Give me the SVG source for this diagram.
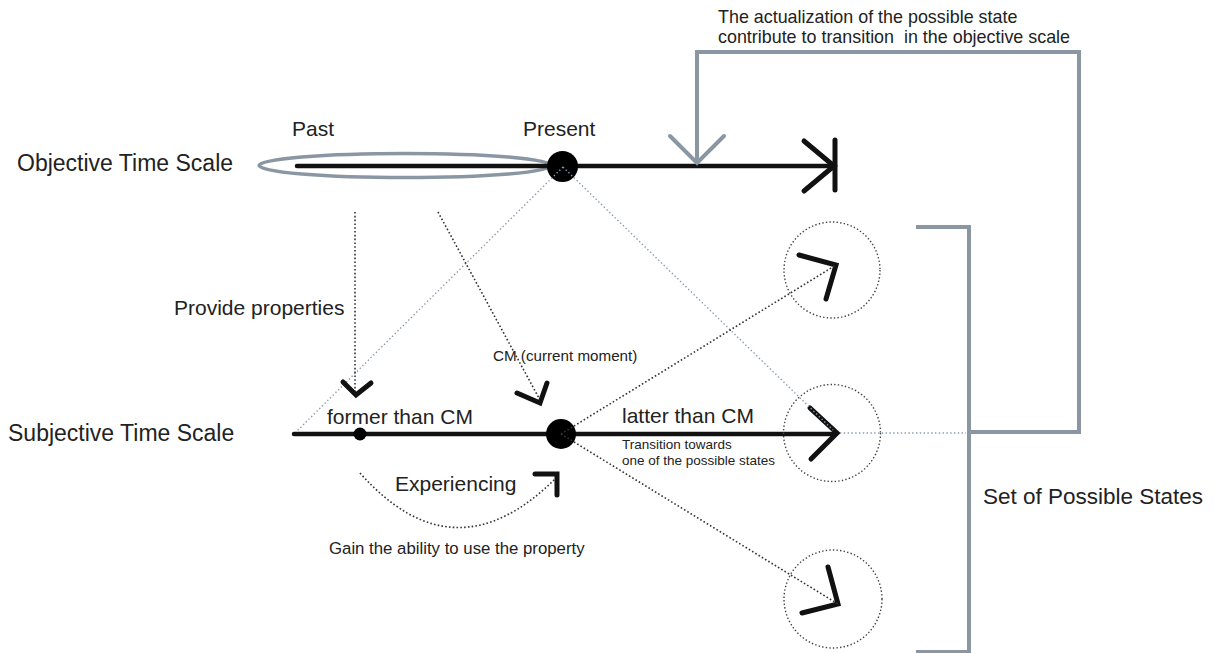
<svg xmlns="http://www.w3.org/2000/svg" width="1215" height="653" viewBox="0 0 1215 653">
  <style>
    text { font-family: "Liberation Sans", Arial, sans-serif; fill: #222; }
    .axis { stroke: #111; stroke-width: 4.5; fill: none; stroke-linecap: round; }
    .head { stroke: #111; stroke-width: 5; fill: none; stroke-linecap: round; stroke-linejoin: miter; }
    .gray { stroke: #8a97a2; stroke-width: 4; fill: none; stroke-linejoin: miter; }
    .dot-black { stroke: #333; stroke-width: 1.6; fill: none; stroke-dasharray: 1.6 2.2; }
    .dot-gray { stroke: #8a9aaa; stroke-width: 1.4; fill: none; stroke-dasharray: 1.4 2.4; }
    .state { stroke: #444; stroke-width: 1.4; fill: none; stroke-dasharray: 1.4 2.2; }
  </style>
  <rect width="1215" height="653" fill="#fff"/>

  <!-- scale labels -->
  <g id="labels">
    <text x="17" y="171" font-size="23">Objective Time Scale</text>
    <text x="8" y="441" font-size="23">Subjective Time Scale</text>
    <text x="174" y="315" font-size="21">Provide properties</text>
    <text x="983" y="504" font-size="22.5">Set of Possible States</text>
    <text x="718" y="23" font-size="17.9">The actualization of the possible state</text>
    <text x="718" y="43" font-size="17.9" xml:space="preserve">contribute to transition  in the objective scale</text>
  </g>

  <!-- objective time scale -->
  <g id="objective-scale">
    <ellipse cx="405" cy="165.5" rx="146" ry="12" fill="none" stroke="#8a97a2" stroke-width="3.5"/>
    <line class="axis" x1="297" y1="166" x2="834" y2="166"/>
    <polyline class="head" points="804,141 834,166 804,191"/>
    <line class="head" x1="835" y1="140" x2="835" y2="190" stroke-linecap="butt"/>
    <text x="292" y="136" font-size="21">Past</text>
    <text x="523" y="136" font-size="21">Present</text>
  </g>
  <g id="present">
    <circle cx="562.5" cy="166.5" r="15.5" fill="#000"/>
  </g>

  <!-- subjective time scale -->
  <g id="subjective-scale">
    <line class="axis" x1="294" y1="434" x2="836" y2="434"/>
    <circle cx="360" cy="434" r="6.5" fill="#000"/>
    <text x="327" y="424" font-size="21">former than CM</text>
    <text x="622" y="423" font-size="21">latter than CM</text>
    <text x="622" y="449" font-size="13.5">Transition towards</text>
    <text x="622" y="465" font-size="13.5">one of the possible states</text>
  </g>
  <g id="current-moment">
    <circle cx="561" cy="434" r="15" fill="#000"/>
    <text x="493" y="361" font-size="15.2">CM (current moment)</text>
  </g>

  <!-- possible states -->
  <g id="state-upper">
    <circle class="state" cx="832" cy="270" r="48"/>
    <polyline class="head" points="799,255 836,265 826,299"/>
  </g>
  <g id="state-middle">
    <circle class="state" cx="832" cy="433" r="48.5"/>
    <polyline class="head" points="810,408 837,433 811,459"/>
  </g>
  <g id="state-lower">
    <circle class="state" cx="833" cy="599" r="49"/>
    <polyline class="head" points="828,567 838,604 802,613"/>
  </g>

  <!-- set-of-states bracket -->
  <g id="states-bracket">
    <polyline class="gray" points="916,227 969,227 969,652 916,652"/>
  </g>

  <g id="connectors">
    <!-- feedback from the set of states to the objective scale -->
    <polyline class="gray" points="969,432 1079,432 1079,52 697,52 697,162"/>
    <polyline class="gray" points="670,136 697,163 724,136" stroke-linecap="round"/>
    <line class="dot-gray" x1="840" y1="433" x2="966" y2="433"/>

    <!-- present projected onto the subjective scale -->
    <line class="dot-gray" x1="563" y1="167" x2="296" y2="432"/>
    <line class="dot-gray" x1="563" y1="167" x2="833" y2="430"/>

    <!-- provide properties -->
    <line class="dot-black" x1="355" y1="212" x2="355" y2="392"/>
    <polyline class="head" points="343,382 356,395 371,383"/>
    <line class="dot-black" x1="438" y1="212" x2="540" y2="400"/>
    <polyline class="head" points="517,393 540,403 547,383"/>

    <!-- transitions from CM to possible states -->
    <line class="dot-black" x1="561" y1="434" x2="836" y2="265"/>
    <line class="dot-black" x1="561" y1="434" x2="838" y2="604"/>

    <!-- experiencing -->
    <path class="dot-black" d="M360,473 Q455,580 557,477"/>
    <polyline class="head" points="535,474 557,474 557,495"/>
  </g>

  <g id="experiencing-labels">
    <text x="395" y="491" font-size="21">Experiencing</text>
    <text x="329" y="554" font-size="16.8">Gain the ability to use the property</text>
  </g>
</svg>
